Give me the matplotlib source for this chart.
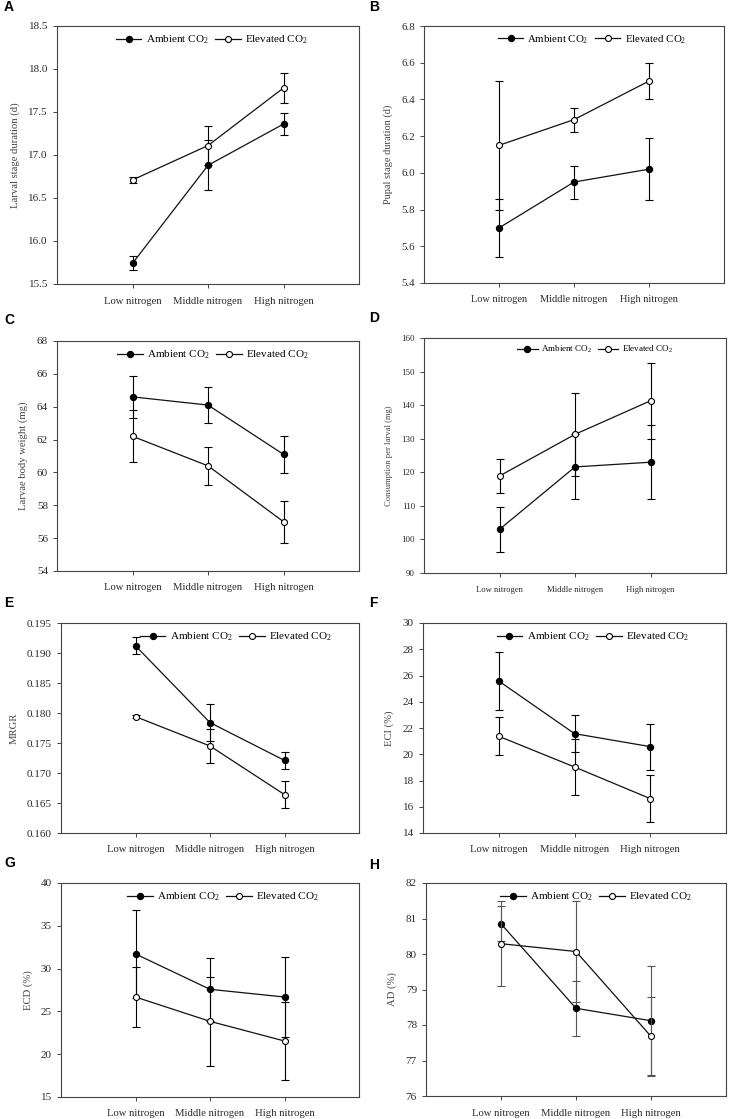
import matplotlib
matplotlib.use('Agg')
import matplotlib.pyplot as plt
from matplotlib.lines import Line2D

plt.rcParams['font.family'] = ['Liberation Serif', 'DejaVu Serif']
plt.rcParams['mathtext.fontset'] = 'custom'
plt.rcParams['mathtext.rm'] = 'Liberation Serif'
plt.rcParams['mathtext.it'] = 'Liberation Serif:italic'

cats = ['Low nitrogen', 'Middle nitrogen', 'High nitrogen']
xpos = [1, 2, 3]

# A - larval stage duration (d)
larval_amb = [15.74, 16.88, 17.36]
larval_amb_se = [0.08, 0.29, 0.13]
larval_elev = [16.71, 17.11, 17.78]
larval_elev_se = [0.03, 0.23, 0.17]

# B - pupal stage duration (d)
pupal_amb = [5.70, 5.95, 6.02]
pupal_amb_se = [0.16, 0.09, 0.17]
pupal_elev = [6.15, 6.29, 6.50]
pupal_elev_se = [0.35, 0.065, 0.097]

# C - larvae body weight (mg)
weight_amb = [64.6, 64.1, 61.1]
weight_amb_se = [1.3, 1.08, 1.13]
weight_elev = [62.2, 60.4, 57.0]
weight_elev_se = [1.57, 1.14, 1.29]

# D - consumption per larval (mg)
cons_amb = [103.0, 121.6, 123.0]
cons_amb_se = [6.8, 9.7, 11.0]
cons_elev = [118.9, 131.3, 141.3]
cons_elev_se = [5.0, 12.3, 11.4]

# E - MRGR
mrgr_amb = [0.1912, 0.1784, 0.1721]
mrgr_amb_se = [0.0014, 0.0031, 0.0014]
mrgr_elev = [0.1794, 0.1745, 0.1664]
mrgr_elev_se = [0.0003, 0.0029, 0.0022]

# F - ECI (%)
eci_amb = [25.58, 21.57, 20.58]
eci_amb_se = [2.23, 1.4, 1.75]
eci_elev = [21.37, 19.03, 16.62]
eci_elev_se = [1.45, 2.11, 1.8]

# G - ECD (%)
ecd_amb = [31.71, 27.58, 26.68]
ecd_amb_se = [5.1, 3.66, 4.72]
ecd_elev = [26.68, 23.84, 21.54]
ecd_elev_se = [3.45, 5.18, 4.6]

# H - AD (%)
ad_amb = [80.85, 78.47, 78.12]
ad_amb_se = [0.49, 0.78, 1.55]
ad_elev = [80.29, 80.07, 77.68]
ad_elev_se = [1.19, 1.42, 1.1]

W, H = 735, 1119
fig = plt.figure(figsize=(W / 100, H / 100), dpi=100)

def make_ax(x0, x1, y0, y1):
    return fig.add_axes([x0 / W, 1 - y1 / H, (x1 - x0) / W, (y1 - y0) / H])

def panel(ax, letter, lx, ly, amb, amb_se, elev, elev_se, ylabel, ylim, step,
          fmt, leg_x, fs=8, ecol='black'):
    ax.errorbar(xpos, amb, yerr=amb_se, color='#111111', ecolor=ecol, lw=0.9,
                elinewidth=0.8, capsize=3, capthick=0.8, marker='o', ms=4.3,
                mfc='black', mec='black', zorder=2)
    ax.errorbar(xpos, elev, yerr=elev_se, color='#111111', ecolor=ecol, lw=0.9,
                elinewidth=0.8, capsize=3, capthick=0.8, marker='o', ms=4.3,
                mfc='white', mec='black', mew=0.8, zorder=3)
    ax.set_xlim(0, 4)
    ax.set_ylim(*ylim)
    ticks = []
    v = ylim[0]
    while v <= ylim[1] + step / 100:
        ticks.append(v)
        v += step
    ax.set_yticks(ticks)
    ax.set_yticklabels([fmt.format(t) for t in ticks])
    ax.set_xticks(xpos)
    ax.set_xticklabels(cats)
    ax.tick_params(axis='both', direction='out', length=3, width=0.7,
                   colors='#444444', labelsize=fs, labelcolor='#2a2a2a')
    ax.tick_params(axis='x', pad=6, labelsize=fs - 0.3)
    for s in ax.spines.values():
        s.set_color('#444444')
        s.set_linewidth(0.8)
    ax.set_ylabel(ylabel, fontsize=fs - 0.3, color='#444444', labelpad=6)
    handles = [
        Line2D([], [], color='#111111', lw=0.9, marker='o', ms=4.3,
               mfc='black', mec='black'),
        Line2D([], [], color='#111111', lw=0.9, marker='o', ms=4.3,
               mfc='white', mec='black', mew=0.8),
    ]
    ax.legend(handles, ['Ambient CO$_2$', 'Elevated CO$_2$'],
              loc='upper center', bbox_to_anchor=(leg_x, 1.01), ncol=2,
              frameon=False, fontsize=fs, handlelength=2.3,
              columnspacing=0.6, handletextpad=0.4)
    fig.text(lx / W, 1 - ly / H, letter, fontsize=10, fontweight='bold',
             family='Liberation Sans', ha='left', va='center')

axA = make_ax(57, 359, 26, 284)
panel(axA, 'A', 4, 7, larval_amb, larval_amb_se, larval_elev, larval_elev_se,
      'Larval stage duration (d)', (15.5, 18.5), 0.5, '{:.1f}', 0.513)

axB = make_ax(424, 724, 26, 283)
panel(axB, 'B', 369, 7, pupal_amb, pupal_amb_se, pupal_elev, pupal_elev_se,
      'Pupal stage duration (d)', (5.4, 6.8), 0.2, '{:.1f}', 0.56, fs=7.8)

axC = make_ax(57, 359, 341, 571)
panel(axC, 'C', 4, 320, weight_amb, weight_amb_se, weight_elev, weight_elev_se,
      'Larvae body weight (mg)', (54, 68), 2, '{:.0f}', 0.517)

axD = make_ax(424, 726, 338, 573)
panel(axD, 'D', 369, 318, cons_amb, cons_amb_se, cons_elev, cons_elev_se,
      'Consumption per larval (mg)', (90, 160), 10, '{:.0f}', 0.566, fs=6.5)

axE = make_ax(61, 359, 623, 833)
panel(axE, 'E', 4, 603, mrgr_amb, mrgr_amb_se, mrgr_elev, mrgr_elev_se,
      'MRGR', (0.160, 0.195), 0.005, '{:.3f}', 0.587)

axF = make_ax(423, 726, 623, 833)
panel(axF, 'F', 369, 603, eci_amb, eci_amb_se, eci_elev, eci_elev_se,
      'ECI (%)', (14, 30), 2, '{:.0f}', 0.56)

axG = make_ax(61, 359, 883, 1097)
panel(axG, 'G', 4, 863, ecd_amb, ecd_amb_se, ecd_elev, ecd_elev_se,
      'ECD (%)', (15, 40), 5, '{:.0f}', 0.544)

axH = make_ax(426, 726, 883, 1096)
panel(axH, 'H', 369, 865, ad_amb, ad_amb_se, ad_elev, ad_elev_se,
      'AD (%)', (76, 82), 1, '{:.0f}', 0.567, ecol='#555555')

fig.savefig('out.png', dpi=100)
